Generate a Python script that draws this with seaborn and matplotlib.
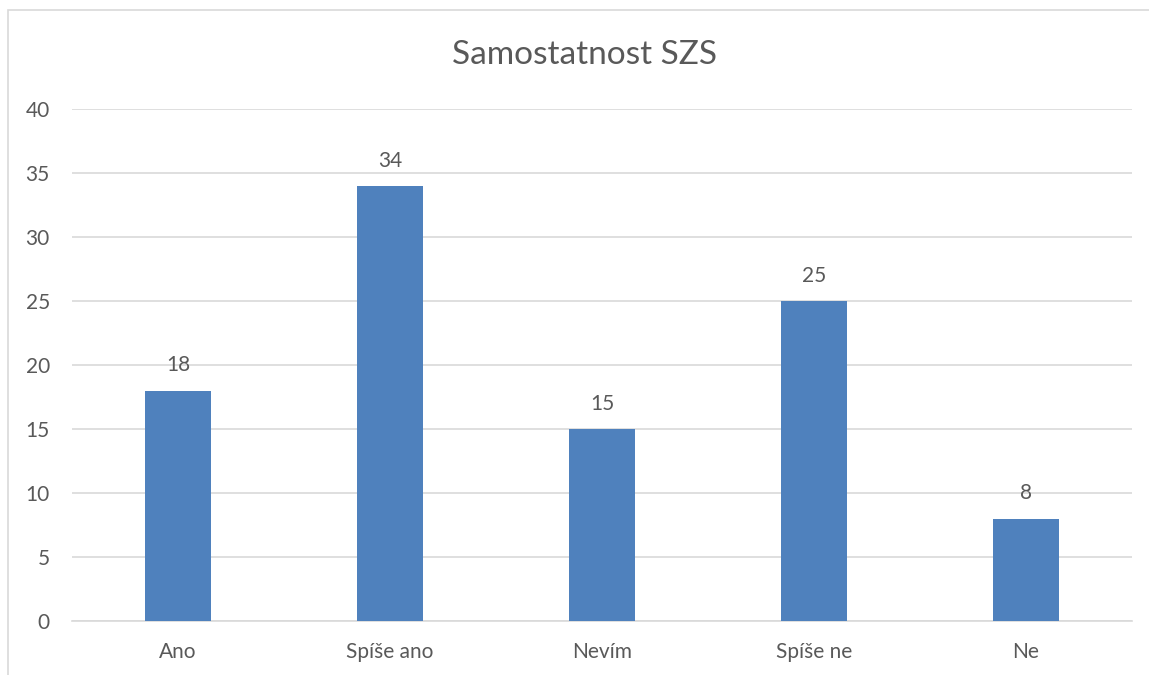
import matplotlib
matplotlib.use("Agg")
import matplotlib.pyplot as plt
import pandas as pd
import seaborn as sns
from matplotlib.patches import Rectangle

categories = ['Ano', 'Spíše ano', 'Nevím', 'Spíše ne', 'Ne']
counts = [18, 34, 15, 25, 8]

df = pd.DataFrame({'Odpověď': categories, 'Počet': counts})

sns.set_theme(style="white")
plt.rcParams['font.family'] = ['Lato', 'DejaVu Sans']

text_color = '#595959'
grid_color = '#D9D9D9'
bar_color = '#4F81BD'

fig = plt.figure(figsize=(11.49, 6.75), dpi=100)
ax = fig.add_axes([72 / 1149, 1 - 621 / 675, 1060 / 1149, 512 / 675])

sns.barplot(data=df, x='Odpověď', y='Počet', color=bar_color, width=0.31,
            saturation=1, linewidth=0, ax=ax, zorder=3)

ax.set_ylim(0, 40)
ax.set_yticks(range(0, 41, 5))
ax.set_xlim(-0.5, len(categories) - 0.5)
ax.yaxis.grid(True, color=grid_color, linewidth=1.2, zorder=0)
ax.set_axisbelow(True)
for side in ['left', 'right', 'top']:
    ax.spines[side].set_visible(False)
ax.spines['bottom'].set_color(grid_color)
ax.spines['bottom'].set_linewidth(1.2)
ax.tick_params(axis='y', length=0, pad=16, labelsize=15, labelcolor=text_color)
ax.tick_params(axis='x', length=0, pad=15, labelsize=15, labelcolor=text_color)
ax.set_xlabel('')
ax.set_ylabel('')

for i, v in enumerate(counts):
    ax.annotate(str(v), (i, v), xytext=(0, 11), textcoords='offset points',
                ha='center', va='bottom', fontsize=15, color=text_color)

fig.text(585 / 1149, 1 - 55 / 675, 'Samostatnost SZS', ha='center', va='center',
         fontsize=24, color=text_color)

# outer chart border (left and top visible, rest cropped)
fig.patches.append(Rectangle((8 / 1149, -0.1), 1.2, 1 - 10 / 675 + 0.1,
                             transform=fig.transFigure, fill=False,
                             edgecolor=grid_color, linewidth=1.2))

fig.savefig('out.png', dpi=100)
